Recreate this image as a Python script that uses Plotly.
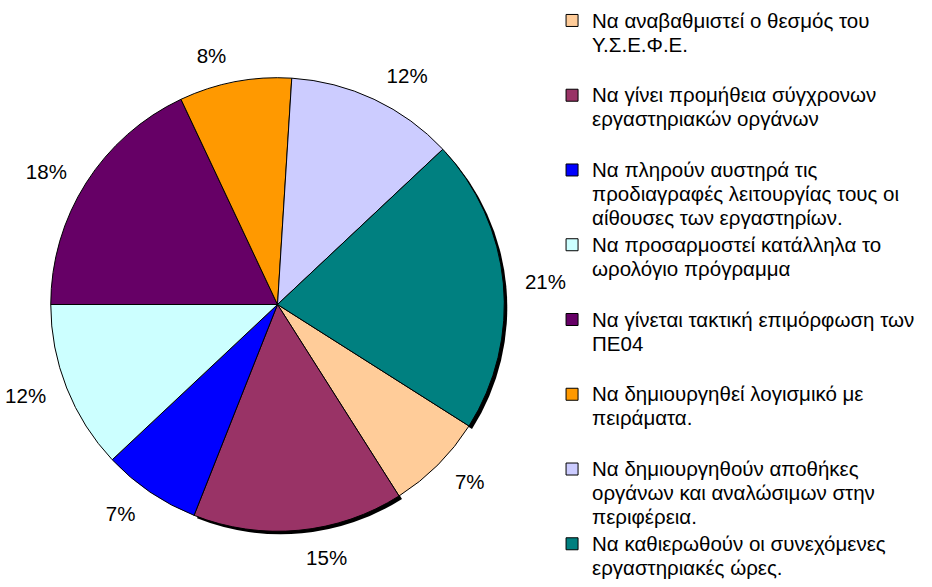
import plotly.graph_objects as go

# ---- data ----
label_lines = [
    ["Να αναβαθμιστεί ο θεσμός του", "Υ.Σ.Ε.Φ.Ε."],
    ["Να γίνει προμήθεια σύγχρονων", "εργαστηριακών οργάνων"],
    ["Να πληρούν αυστηρά τις", "προδιαγραφές λειτουργίας τους οι", "αίθουσες των εργαστηρίων."],
    ["Να προσαρμοστεί κατάλληλα το", "ωρολόγιο πρόγραμμα"],
    ["Να γίνεται τακτική επιμόρφωση των", "ΠΕ04"],
    ["Να δημιουργηθεί λογισμικό με", "πειράματα."],
    ["Να δημιουργηθούν αποθήκες", "οργάνων και αναλώσιμων στην", "περιφέρεια."],
    ["Να καθιερωθούν οι συνεχόμενες", "εργαστηριακές ώρες."],
]
values = [7, 15, 7, 12, 18, 8, 12, 21]
colors = ["#FFCC99", "#993366", "#0000FF", "#CCFFFF", "#660066", "#FF9900", "#CCCCFF", "#008080"]
shadowed = [False, True, False, False, False, False, False, True]

# ---- layout constants ----
W, H = 932, 587
cx, cy, r = 274, 304.5, 228   # pie centre / radius in pixels (y from top)
r_text = r + 16               # radius used to place the outside percentage labels
shadow_off = 3
rotation = 122.4
FONT = "Liberation Sans, Arial, sans-serif"
legend_spacing_font = 18.4    # controls legend line spacing
legend_glyph_size = 20.5      # actual glyph size of the legend text
pct_size = 20.5
max_lines = max(len(l) for l in label_lines)

# pad every entry (except the last) to the same number of lines so entries are evenly spaced
labels = []
for i, l in enumerate(label_lines):
    pad = 0 if i == len(label_lines) - 1 else max_lines - len(l)
    lines = [f'<span style="font-size:{legend_glyph_size}px">{t}</span>' for t in l]
    labels.append("<br>".join(lines + ["\u00a0"] * pad))


def domain(radius, dx=0, dy=0):
    x0 = (cx - radius + dx) / W
    x1 = (cx + radius + dx) / W
    y0 = (H - (cy + radius + dy)) / H
    y1 = (H - (cy - radius + dy)) / H
    return dict(x=[x0, x1], y=[y0, y1])


common = dict(values=values, sort=False, direction="clockwise", rotation=rotation)

fig = go.Figure()

# invisible ring that carries the percentage labels slightly further out
fig.add_trace(go.Pie(
    labels=[f"t{i}" for i in range(len(values))],
    marker=dict(colors=["rgba(0,0,0,0)"] * len(values), line=dict(width=0)),
    textposition="outside",
    texttemplate="%{percent:.0%}",
    outsidetextfont=dict(family=FONT, size=pct_size, color="#000000"),
    hoverinfo="skip",
    showlegend=False,
    domain=domain(r_text),
    **common,
))

# shadow under selected slices
fig.add_trace(go.Pie(
    labels=[f"s{i}" for i in range(len(values))],
    marker=dict(colors=["#000000" if s else "rgba(0,0,0,0)" for s in shadowed],
                line=dict(width=0)),
    textinfo="none",
    hoverinfo="skip",
    showlegend=False,
    domain=domain(r, shadow_off, shadow_off),
    **common,
))

# main pie
fig.add_trace(go.Pie(
    labels=labels,
    marker=dict(colors=colors, line=dict(color="#000000", width=1)),
    textinfo="none",
    domain=domain(r),
    **common,
))

fig.update_layout(
    width=W, height=H,
    margin=dict(l=0, r=0, t=0, b=0),
    paper_bgcolor="#FFFFFF",
    plot_bgcolor="#FFFFFF",
    font=dict(family=FONT, size=legend_spacing_font, color="#000000"),
    legend=dict(
        x=550 / W, y=1 - 2 / H, xanchor="left", yanchor="top",
        valign="top",
        bgcolor="rgba(0,0,0,0)",
        font=dict(family=FONT, size=legend_spacing_font, color="#000000"),
        traceorder="normal",
    ),
)

fig.write_html("out.html", config={"displayModeBar": False},
               post_script="document.body.style.margin='0';")
